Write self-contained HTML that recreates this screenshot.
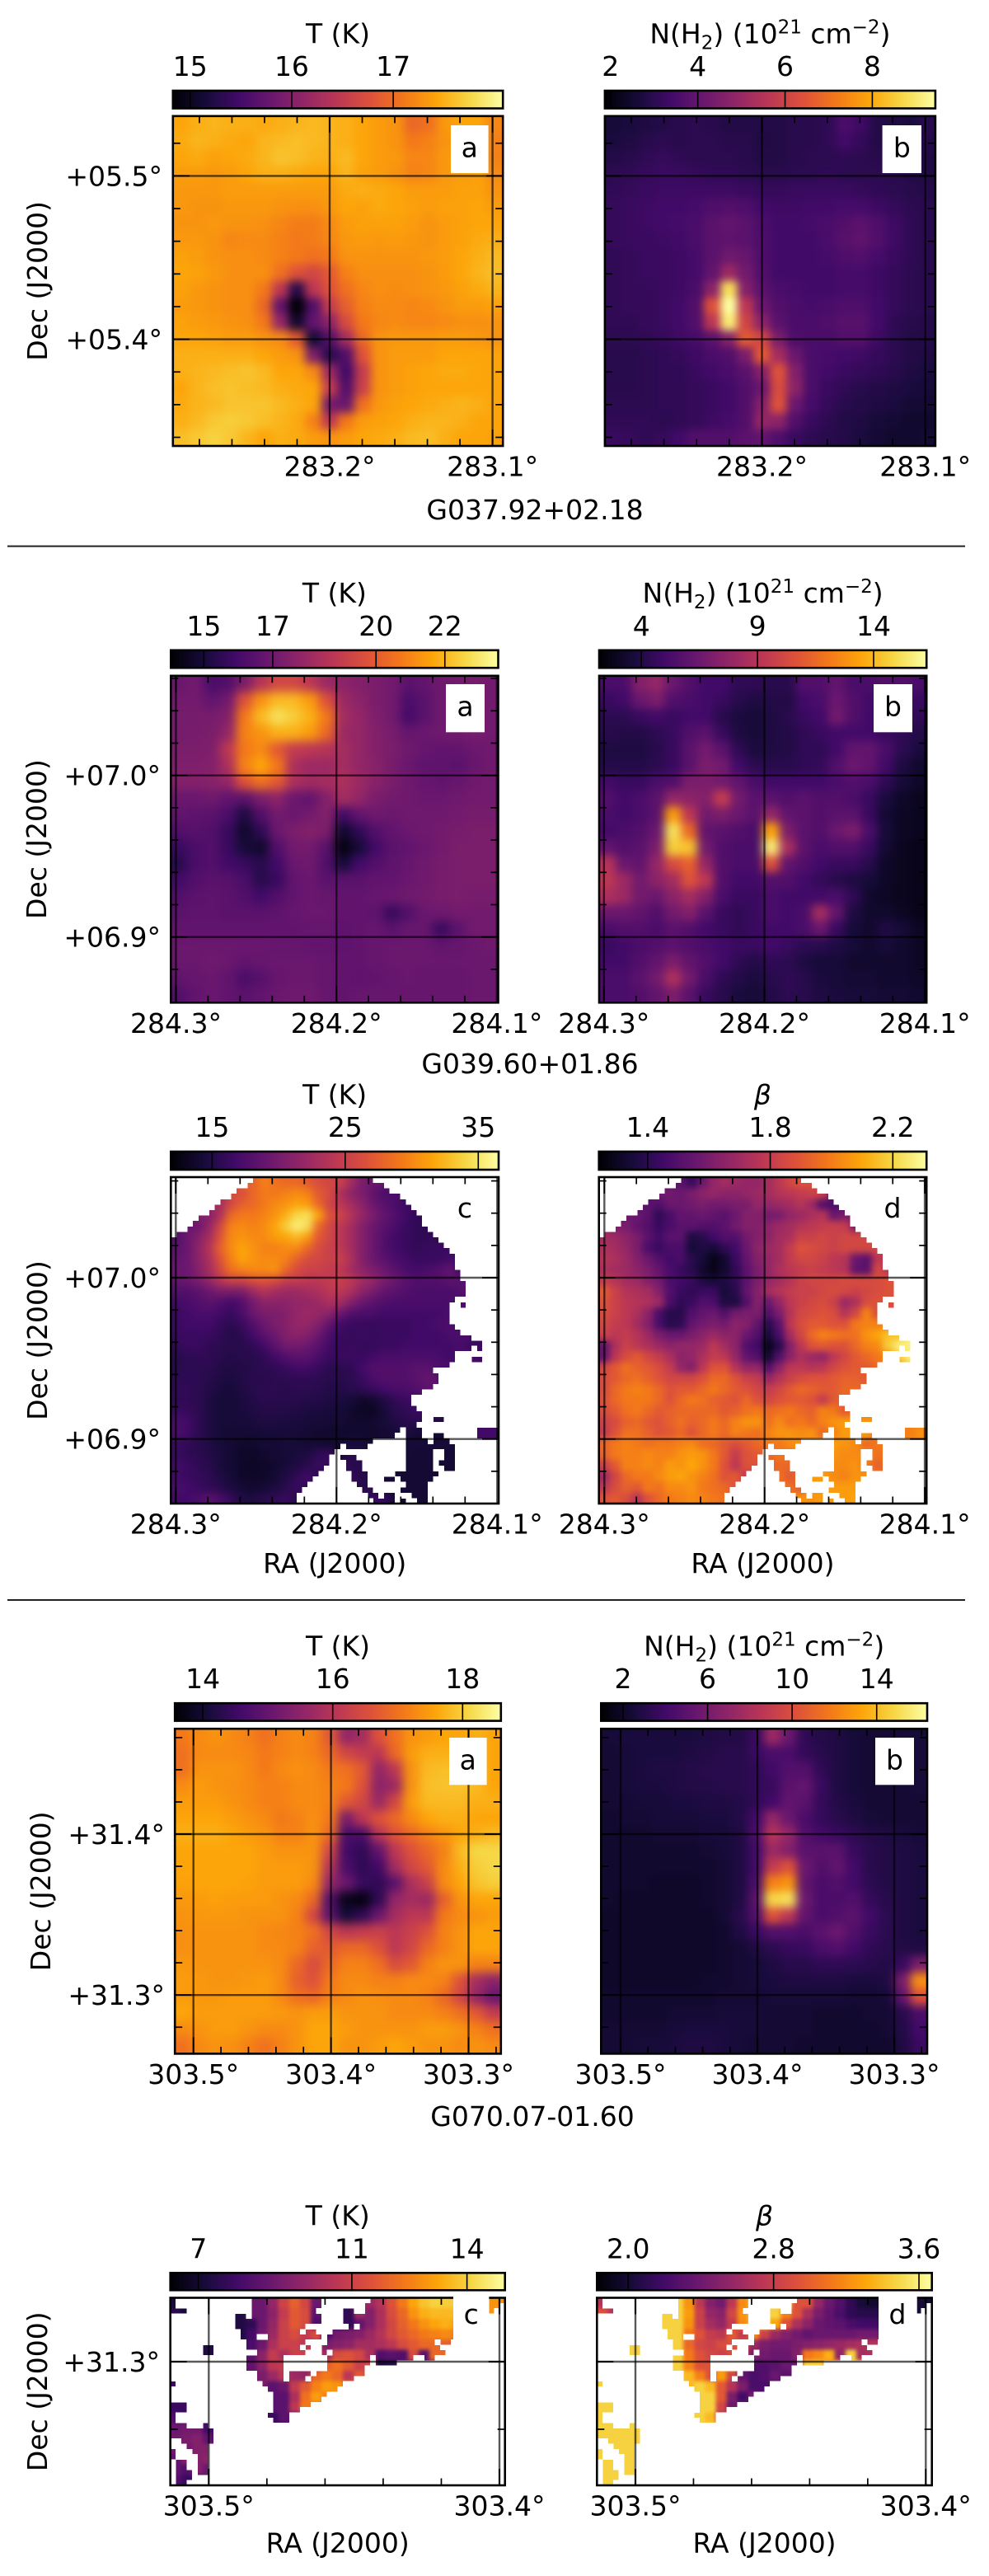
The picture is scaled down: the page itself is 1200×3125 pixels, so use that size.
<!DOCTYPE html>
<html lang="en">
<head>
<meta charset="utf-8">
<title>Dust temperature and column density maps</title>
<style>
html,body{margin:0;padding:0;background:#fff;}
svg{display:block;}
text{font-family:"DejaVu Sans","Liberation Sans",sans-serif;font-size:33px;fill:#000;white-space:pre;}
</style>
</head>
<body>
<svg id="figure" xmlns="http://www.w3.org/2000/svg" width="1200" height="3125" viewBox="0 0 1200 3125"><defs id="defs"></defs></svg>
<script>
const _ = null;

/* Colourbar tick labels and colour ranges */
const g037TempTicks = ['15','16','17'];
const g037TempRange = [14.83,18.08];
const g037ColTicks = ['2','4','6','8'];
const g037ColRange = [1.87,9.445];
const g039TempTicks = ['15','17','20','22'];
const g039TempRange = [14.04,23.55];
const g039ColTicks = ['4','9','14'];
const g039ColRange = [2.18,16.28];
const g039WideTempTicks = ['15','25','35'];
const g039WideTempRange = [11.9,36.53];
const g039BetaTicks = ['1.4','1.8','2.2'];
const g039BetaRange = [1.241,2.31];
const g070TempTicks = ['14','16','18'];
const g070TempRange = [13.57,18.59];
const g070ColTicks = ['2','6','10','14'];
const g070ColRange = [0.96,16.39];
const g070ZoomTempTicks = ['7','11','14'];
const g070ZoomTempRange = [6.27,14.99];
const g070BetaTicks = ['2.0','2.8','3.6'];
const g070BetaRange = [1.828,3.671];

/* Sky-coordinate tick values and labels */
const g037Ra = [283.2,283.1];
const g037RaLabels = ['283.2°','283.1°'];
const g037Dec = [5.5,5.4];
const g037DecLabels = ['+05.5°','+05.4°'];
const g039Ra = [284.3,284.2,284.1];
const g039RaLabels = ['284.3°','284.2°','284.1°'];
const g039Dec = [7.0,6.9];
const g039DecLabels = ['+07.0°','+06.9°'];
const g070Ra = [303.5,303.4,303.3];
const g070RaLabels = ['303.5°','303.4°','303.3°'];
const g070Dec = [31.4,31.3];
const g070DecLabels = ['+31.4°','+31.3°'];
const g070ZoomRa = [303.5,303.4];
const g070ZoomRaLabels = ['303.5°','303.4°'];
const g070ZoomDec = [31.3];
const g070ZoomDecLabels = ['+31.3°'];

/* Map values: position on each colour scale, 0-100, rows top to bottom. _ = blank (no data) */
const g037Temp = [
[80,82,83,82,82,81,82,83,84,83,82,80,78,76,66,68,77,80,80,73],
[81,83,82,81,80,83,84,85,84,83,82,80,78,76,70,72,76,80,81,72],
[80,81,79,80,81,83,86,85,83,82,84,80,78,77,73,73,77,79,80,72],
[78,78,77,78,80,82,82,81,80,80,83,79,78,76,72,73,77,78,79,74],
[77,77,77,78,78,78,78,78,78,78,81,82,81,80,78,78,78,79,79,76],
[77,76,76,77,77,77,76,75,75,77,80,79,81,80,79,78,79,79,80,78],
[76,76,77,76,76,75,73,71,71,74,78,79,79,79,78,76,78,79,80,80],
[77,77,76,73,74,74,72,70,71,73,77,78,77,78,77,76,78,79,81,82],
[79,78,76,75,75,74,72,70,68,70,76,76,76,76,76,77,78,80,82,84],
[80,79,77,75,75,75,68,60,56,62,72,75,75,75,75,76,78,80,83,85],
[79,77,76,75,75,70,50,14,50,60,68,73,75,74,75,76,77,79,81,83],
[78,77,76,75,75,66,28,0,24,52,64,72,74,74,73,74,76,78,78,79],
[79,78,77,76,75,70,40,8,28,38,58,70,73,74,73,73,74,75,75,76],
[80,80,79,78,78,76,74,62,10,24,44,66,76,77,77,77,78,78,77,76],
[82,82,82,82,82,80,78,76,35,14,24,60,76,78,78,78,80,80,80,80],
[82,83,84,85,86,84,80,80,74,42,20,52,76,78,79,80,81,81,80,80],
[80,83,85,86,85,84,82,81,80,52,24,54,76,78,79,80,80,80,80,80],
[81,83,84,86,86,86,84,82,80,32,30,68,77,79,80,81,82,83,82,80],
[82,84,87,88,87,85,83,81,72,50,70,78,79,80,82,83,83,82,80,80],
[85,87,89,87,83,80,82,81,78,76,78,80,81,82,84,85,82,80,80,79]
];
const g037Col = [
[10,11,12,13,14,15,14,13,13,13,13,14,14,16,22,19,13,12,11,14],
[11,12,14,15,14,15,15,14,14,12,13,14,14,16,20,17,13,12,12,13],
[13,14,16,17,16,15,15,15,14,13,13,14,15,15,16,15,14,13,13,12],
[15,16,17,18,18,17,16,16,15,14,14,15,15,16,15,15,15,14,13,12],
[16,17,18,19,19,19,19,19,18,17,17,18,18,18,18,17,16,15,14,13],
[17,18,19,20,20,21,23,24,23,20,19,19,20,20,21,21,19,17,15,14],
[17,18,19,20,21,22,26,28,26,22,20,20,21,22,24,26,23,19,16,14],
[17,18,18,19,20,22,26,27,26,23,20,20,20,22,25,27,24,19,16,14],
[16,17,18,18,19,21,26,31,29,23,20,20,20,21,23,24,21,18,16,14],
[16,17,18,18,19,21,28,42,32,24,20,20,20,20,21,21,19,17,15,14],
[16,17,17,18,19,22,38,92,36,26,22,21,20,20,21,21,19,17,15,14],
[16,17,17,18,20,24,60,100,50,30,24,22,21,22,23,23,20,17,15,14],
[16,16,17,18,20,24,50,95,55,38,26,22,22,23,25,25,20,16,14,13],
[15,15,16,17,19,21,26,36,62,56,34,23,22,22,24,24,19,15,13,13],
[14,14,15,16,17,19,22,24,34,62,44,30,22,21,20,19,17,15,13,12],
[14,14,15,16,16,18,20,22,26,36,60,36,22,20,18,17,16,14,12,11],
[14,14,15,16,16,17,18,20,24,30,58,38,22,18,16,14,13,12,11,10],
[15,15,15,16,16,17,18,20,24,36,60,30,21,17,14,13,12,11,9,9],
[16,16,16,15,16,17,19,21,24,40,38,24,18,15,13,12,10,9,8,8],
[18,17,16,17,20,24,24,24,26,28,23,18,15,14,13,11,9,8,8,9]
];
const g039Temp = [
[30,32,22,24,34,48,56,56,50,42,38,36,34,32,26,28,31,32,33,32],
[32,32,28,32,60,76,84,84,78,60,42,38,34,32,22,26,31,32,33,32],
[33,33,33,36,70,84,92,88,82,70,44,40,35,32,21,26,31,32,33,32],
[33,33,34,40,72,76,82,82,78,66,42,40,36,33,29,30,31,32,33,32],
[34,34,35,50,70,74,62,52,50,48,44,40,36,34,31,29,28,28,30,31],
[35,35,36,46,72,80,70,46,42,42,44,40,37,33,30,27,27,26,29,31],
[36,36,37,40,60,68,62,46,43,44,46,42,37,34,31,29,28,29,31,32],
[30,30,31,28,26,34,38,30,28,36,44,40,34,32,31,30,30,31,32,32],
[28,27,26,22,12,24,32,30,32,36,20,28,31,30,31,31,31,32,33,33],
[24,25,24,18,8,16,30,34,36,34,8,16,24,28,30,31,32,33,34,34],
[18,22,24,18,10,8,24,32,32,26,2,10,20,26,28,30,32,34,34,34],
[14,22,24,20,18,14,20,30,31,24,10,20,24,27,29,31,33,34,34,34],
[20,24,26,25,22,14,18,28,30,26,26,26,28,28,30,31,33,34,34,34],
[24,26,27,26,24,20,24,28,30,29,28,28,29,30,31,32,33,34,33,33],
[26,27,27,26,26,26,27,29,30,30,28,28,27,18,24,30,31,32,32,32],
[28,28,28,28,28,28,28,28,29,29,27,28,29,26,29,29,18,26,32,32],
[30,30,30,30,30,30,29,29,28,28,27,28,29,30,30,30,28,29,30,31],
[30,30,31,30,28,29,30,30,30,29,28,28,29,30,30,30,30,30,30,30],
[28,29,30,28,22,25,29,30,30,29,28,27,28,29,30,29,29,29,30,30],
[24,28,30,28,26,28,30,31,31,29,28,29,29,29,29,29,29,29,30,30]
];
const g039Col = [
[22,22,36,40,30,24,20,20,16,16,14,14,24,24,28,22,22,24,24,22],
[18,20,30,34,24,22,20,18,14,12,13,13,20,22,30,24,20,22,20,18],
[15,15,18,20,18,20,20,14,11,10,12,14,18,20,32,24,20,20,18,16],
[14,13,13,15,18,24,26,18,12,10,12,13,16,18,20,20,20,18,16,13],
[12,12,12,14,18,26,32,26,16,11,12,13,16,16,20,28,28,22,15,11],
[13,13,13,15,18,26,34,32,20,15,14,14,16,17,24,30,28,20,12,8],
[20,18,18,22,24,34,34,32,28,22,20,20,20,20,22,24,22,16,10,7],
[24,20,22,26,40,38,36,52,32,26,26,24,26,24,24,22,18,11,7,5],
[22,20,22,26,78,50,32,34,30,26,40,28,26,24,26,26,18,9,6,5],
[20,22,24,30,92,66,28,26,24,22,80,34,26,24,30,34,22,10,6,5],
[28,24,26,34,88,86,32,24,22,22,95,45,26,22,24,24,18,9,5,4],
[48,30,28,40,58,64,40,24,22,22,60,28,24,20,18,18,14,7,5,4],
[50,42,32,38,44,60,50,24,20,20,24,24,20,17,14,12,10,7,5,4],
[46,42,32,30,38,44,36,22,18,18,22,20,20,20,22,16,8,6,5,4],
[30,30,28,24,32,36,26,18,16,18,22,20,22,44,28,12,8,8,6,4],
[22,24,24,22,26,24,20,18,16,18,20,20,22,30,18,10,8,12,10,6],
[18,20,22,24,26,24,22,20,18,18,20,18,15,14,12,10,8,10,8,6],
[20,20,24,28,34,28,24,20,16,13,16,15,12,10,10,8,8,8,8,6],
[22,22,26,32,46,32,22,16,13,11,14,16,14,11,10,9,9,8,8,7],
[22,22,24,28,34,26,18,14,11,10,13,15,14,12,11,10,10,9,9,8]
];
const g039WideTemp = [
[_,_,_,_,_,_,_,64,72,68,66,66,62,58,56,54,44,34,30],
[_,_,_,_,_,_,58,66,70,70,72,74,72,62,58,46,38,34,28,22],
[_,_,_,_,44,56,64,66,70,74,76,80,78,66,55,50,44,38,30,26,22,18],
[_,_,_,36,46,66,70,70,72,76,82,90,92,80,60,55,48,40,34,28,24,20,16],
[_,_,30,40,56,72,74,72,74,80,88,96,92,66,56,50,44,36,30,26,22,18,16],
[24,30,36,44,60,74,76,74,74,78,80,84,78,62,56,50,44,36,30,24,20,18,16,16],
[26,30,38,48,64,74,80,76,72,72,74,74,66,58,54,50,44,36,30,24,20,18,16,18,18],
[28,30,38,46,60,72,80,76,74,74,72,64,58,56,54,54,46,36,30,26,22,20,18,18,18,20],
[30,30,36,44,56,68,72,74,74,76,66,58,54,54,52,50,44,38,34,30,26,22,20,22,24,28],
[28,30,34,40,48,54,54,58,60,58,52,52,50,50,52,54,50,44,40,34,30,26,24,24,24,26,26],
[24,24,26,30,34,34,34,42,48,44,42,42,44,46,50,50,46,38,34,28,26,24,22,22,22,22,24],
[20,22,24,26,24,20,24,32,38,38,38,40,40,42,46,44,36,30,26,24,22,22,22,22,22,22],
[18,20,22,22,20,18,22,30,34,34,36,40,42,40,38,30,24,22,22,20,20,20,20,20,20],
[18,20,20,20,17,15,18,24,30,34,36,40,40,36,28,20,18,18,17,18,18,18,20,20,22,22],
[18,18,18,18,16,13,15,20,26,30,36,38,36,30,22,18,17,18,18,18,18,18,20,20,20,22,22],
[16,18,18,16,15,14,14,16,20,26,32,32,30,26,20,17,18,17,17,18,18,20,20,20,20,20,22,18,18],
[14,15,16,16,14,13,14,14,16,20,24,26,26,22,18,18,18,18,20,22,22,22,22,22,22,20],
[14,15,15,15,13,12,13,14,15,16,18,20,20,18,15,14,16,20,24,24,24,24,26,26],
[15,16,15,14,12,11,13,14,14,15,15,16,16,15,14,14,15,18,22,24,24,24,26,28],
[16,16,15,13,11,10,12,14,15,15,14,15,15,14,13,13,14,15,18,20,22,22,24,26],
[16,16,15,12,10,10,11,13,14,14,14,14,13,13,12,11,10,7,8,12,16,18,20],
[18,17,15,12,10,10,11,12,13,13,13,12,11,11,10,10,8,6,6,10,14,16],
[22,20,16,12,10,10,10,11,12,12,11,11,10,10,9,9,8,8,8,10,12,14,14],
[22,20,15,12,10,9,9,9,10,10,10,10,9,8,8,8,8,8,8,9,_,_,9,9,_,_,_,_,20,20],
[18,16,14,12,10,9,8,8,9,9,10,10,9,9,8,9,10,10,_,_,_,_,10,10,10,10],
[18,16,15,13,11,9,7,7,8,9,10,11,12,16,18,_,14,14,_,_,_,_,9,9,_,9],
[20,18,16,14,11,9,7,6,7,8,10,12,14,18,_,_,14,14,_,_,_,_,9,9,9,9],
[20,18,17,15,12,10,7,7,7,9,12,16,20,_,_,_,16,14,_,_,9,_,9,9],
[22,20,18,16,14,11,9,8,9,11,14,18,_,_,_,_,_,14,_,_,_,9,9,9],
[20,20,22,26,22,17,12,12,14,16,18,_,_,_,_,_,_,_,18,_,_,_,9,9]
];
const g039Beta = [
[_,_,_,_,_,_,_,26,18,30,40,44,42,40,40,44,50,56,60],
[_,_,_,_,_,_,32,30,34,38,40,38,38,40,42,44,48,50,52,54],
[_,_,_,_,26,24,30,30,32,34,32,32,34,34,40,40,42,44,48,42,24,22],
[_,_,_,30,26,16,22,28,28,30,28,26,30,36,36,32,34,40,42,46,48,30,34],
[_,_,34,28,24,18,22,26,26,24,24,26,32,36,36,38,42,44,48,50,52,54,52],
[44,42,38,34,26,20,26,26,12,14,20,24,24,32,36,38,44,46,54,54,56,54,56,56],
[46,44,40,34,22,18,22,22,10,12,10,16,20,30,38,42,44,52,60,58,56,54,56,56,56],
[48,46,42,36,30,24,20,22,14,10,4,8,18,28,36,40,44,52,56,56,54,50,48,30,26,50],
[46,44,42,38,34,28,22,18,14,8,4,8,16,26,34,40,46,50,52,54,52,50,48,28,26,56],
[52,48,44,42,36,32,22,20,18,12,10,12,16,26,34,40,44,48,54,56,56,56,58,58,58,58,60],
[62,54,48,46,44,36,24,18,16,18,18,10,14,28,36,44,48,52,54,54,56,58,56,54,56,58,60],
[60,54,50,48,46,42,22,16,18,24,22,12,12,24,36,30,40,50,54,56,58,54,42,46,58,60],
[58,54,50,46,38,22,14,14,24,28,30,24,32,34,34,24,34,48,56,58,60,58,48,56,72],
[56,52,50,44,36,22,14,16,28,32,34,32,38,36,28,14,26,50,58,62,62,60,60,70,72,72],
[54,50,52,48,42,34,30,30,34,38,42,38,38,30,24,10,22,44,56,66,72,70,68,68,76,80,86],
[28,46,54,50,46,42,38,40,40,42,50,44,38,24,20,4,14,36,50,60,62,60,60,66,72,74,88,96,96],
[28,50,58,62,56,52,46,38,40,46,52,50,40,28,24,8,24,38,46,42,40,50,56,62,66,70],
[56,62,68,64,62,58,52,40,36,50,60,60,48,40,40,24,38,50,50,48,50,56,60,62],
[58,62,66,68,64,60,56,56,56,60,66,66,60,54,52,40,48,54,58,60,60,62,64,64],
[58,66,70,72,70,66,60,62,62,66,70,66,62,60,56,52,56,62,66,64,62,62,66,66],
[60,66,70,70,70,66,60,66,70,68,64,62,60,66,60,56,60,62,62,60,52,62,66],
[58,62,68,70,66,62,64,66,66,66,66,62,64,68,70,66,68,70,66,64,72,70],
[54,58,64,66,62,60,64,68,64,66,70,66,72,76,76,68,74,68,70,66,72,76,78],
[52,60,68,68,64,60,62,66,60,66,70,66,72,70,68,72,76,76,74,76,_,_,78,78,_,_,_,_,72,76],
[66,70,72,70,68,70,70,72,74,68,66,62,58,62,66,70,70,74,_,_,_,_,76,74,66,70],
[64,70,72,72,74,72,72,76,78,76,70,62,52,60,62,_,70,68,_,_,_,_,74,74,_,68],
[54,62,72,72,74,72,78,76,80,76,70,60,50,60,_,_,66,66,_,_,_,_,74,76,70,64],
[42,56,66,70,70,74,78,80,76,72,68,60,62,_,_,_,68,62,_,_,78,_,72,76],
[50,58,64,62,70,68,74,74,76,70,68,66,_,_,_,_,_,68,_,_,_,78,78,78],
[60,62,58,48,60,66,70,72,74,72,70,_,_,_,_,_,_,_,76,_,_,_,78,80]
];
/* Which map pixels hold data in G039 panels c and d: per row, [first,last] column runs */
const g039CoverageRuns = [
[[15,36]],[[14,38]],[[12,39]],[[11,41]],[[9,42]],[[8,43]],[[7,44]],[[5,45]],[[4,45]],[[3,46]],
[[1,47]],[[0,48]],[[0,49]],[[0,50]],[[0,51]],[[0,51]],[[0,51]],[[0,52]],[[0,52]],[[0,53]],
[[0,53]],[[0,53]],[[0,51]],[[0,50],[53,53]],[[0,50]],[[0,50]],[[0,50]],[[0,51]],[[0,52]],[[0,54]],
[[0,55],[56,56]],[[0,53],[54,54],[56,56]],[[0,51]],[[0,51],[55,56]],[[0,50]],[[0,47]],[[0,48]],[[0,48]],[[0,47]],[[0,45]],
[[0,43]],[[0,43]],[[0,44]],[[0,45]],[[0,45],[48,49]],[[0,44]],[[0,41],[43,45],[56,59]],[[0,40],[43,45],[48,49],[56,59]],[[0,36],[43,46],[48,50]],[[0,30],[32,35],[43,51]],
[[0,29],[43,47],[50,51]],[[0,28],[31,33],[43,47],[50,51]],[[0,28],[32,34],[43,47],[49,51]],[[0,27],[32,34],[43,47],[50,51]],[[0,26],[33,35],[41,48]],[[0,25],[33,35],[39,40],[42,47]],[[0,24],[34,35],[43,46]],[[0,23],[35,36],[42,46]],[[0,22],[36,37],[39,40],[44,46]],[[0,22],[37,38],[39,40],[42,42],[45,46]]
];
const g070Temp = [
[70,74,76,74,72,68,72,74,72,62,40,44,60,68,76,78,80,80,82,80],
[68,74,74,74,73,70,72,74,72,66,56,52,50,66,78,82,82,82,82,80],
[68,76,76,76,74,70,74,75,74,70,68,62,40,50,76,84,85,85,84,80],
[74,78,76,75,74,72,72,74,74,72,70,60,38,42,76,85,86,86,84,80],
[78,78,78,76,74,72,72,74,74,72,62,56,42,56,78,84,84,84,82,82],
[80,80,80,78,76,74,70,72,75,70,34,50,60,66,74,80,82,82,80,80],
[82,82,82,80,78,76,72,72,76,66,22,22,48,60,66,72,76,80,82,84],
[80,80,80,80,80,78,76,76,76,56,20,16,28,50,60,66,72,84,90,90],
[80,80,80,80,80,78,78,78,76,48,22,16,20,44,56,62,74,82,88,90],
[79,80,80,80,79,78,78,78,74,40,30,18,16,26,46,54,74,80,86,88],
[77,78,79,78,78,78,76,74,66,24,4,2,16,40,44,42,64,76,80,80],
[76,77,77,77,76,76,76,72,56,26,10,16,30,44,50,50,70,74,76,78],
[75,76,76,76,76,74,73,72,68,56,50,52,54,50,54,60,72,76,80,80],
[75,76,76,76,76,74,74,72,64,62,66,66,60,50,56,66,72,76,80,80],
[77,76,76,76,76,76,74,66,58,66,72,72,68,58,62,72,76,76,72,72],
[78,77,76,76,77,78,74,64,60,70,74,74,72,72,74,74,72,60,44,38],
[78,77,77,78,78,78,74,68,66,72,74,76,75,74,74,72,66,56,40,30],
[80,78,78,78,78,78,77,76,78,78,76,76,76,74,74,74,72,68,62,52],
[74,76,78,78,76,74,74,76,80,80,78,76,76,76,76,78,78,76,72,68],
[68,74,76,75,72,68,72,76,80,80,76,76,78,80,78,76,76,74,76,74]
];
const g070Col = [
[10,11,11,11,11,11,12,13,13,18,42,30,16,13,12,10,9,9,10,10],
[9,10,11,11,11,12,13,14,14,18,22,22,17,14,12,10,9,9,10,10],
[9,10,11,12,12,13,14,14,14,16,20,24,24,16,12,10,9,9,9,10],
[9,10,11,11,12,13,13,14,14,16,18,26,28,18,12,10,9,9,9,10],
[9,9,10,10,11,11,12,12,13,16,20,28,26,17,13,11,9,9,9,9],
[8,9,9,10,10,10,11,11,13,20,40,30,22,17,14,12,10,9,9,9],
[8,8,8,9,9,9,10,10,12,22,48,40,24,20,18,15,13,12,11,10],
[8,8,8,8,8,8,9,10,12,20,42,36,26,26,26,18,14,13,12,11],
[8,8,8,8,8,8,8,9,12,20,52,60,30,24,28,20,14,13,12,11],
[8,8,8,7,7,7,8,9,12,22,72,76,28,22,24,20,15,13,12,11],
[8,7,7,7,7,7,8,9,12,26,90,92,30,22,22,24,17,14,12,11],
[7,7,7,7,7,7,7,9,14,24,60,50,28,22,24,26,20,15,12,11],
[7,7,7,7,7,7,7,8,12,18,24,24,22,26,30,24,18,15,12,11],
[7,7,7,7,7,7,7,8,9,12,15,17,18,22,24,20,16,14,13,12],
[7,7,7,7,7,7,7,8,9,10,12,14,14,16,16,15,14,13,18,34],
[7,7,7,7,7,7,8,8,9,10,11,12,12,12,12,11,11,12,34,75],
[8,8,8,8,8,8,8,9,9,9,10,10,10,10,10,9,9,10,28,60],
[8,8,8,8,9,9,9,10,10,10,9,9,9,8,8,8,9,9,14,22],
[9,9,9,9,10,11,11,11,10,10,9,9,9,8,8,8,8,9,13,20],
[9,9,10,10,11,12,12,11,10,9,9,9,8,8,8,8,8,8,12,18]
];
const g070ZoomTemp = [
[10,_,_,_,_,_,_,_,30,40,55,64,56,30,_,_,_,_,42,48,60,70,80,86,89,88,88,_,_,_,76],
[14,_,_,_,_,_,12,_,30,38,52,62,58,26,_,_,16,_,36,46,58,66,76,82,84,84,84,_,_,_,80],
[_,_,_,_,_,_,12,16,30,40,54,62,58,22,_,_,16,28,36,46,56,64,70,76,80,82,80],
[_,_,_,_,_,_,_,20,32,42,54,58,52,_,_,32,34,36,42,48,56,62,66,70,72,74,72],
[_,_,_,_,_,_,_,22,30,46,54,54,50,_,34,36,38,44,44,46,50,58,62,66,66,64,60],
[_,_,_,12,_,_,_,26,38,52,_,_,_,_,44,58,60,56,46,24,26,24,_,26],
[_,_,_,_,_,_,_,28,38,50,_,_,_,_,64,68,62,54,_,10,12],
[_,_,_,_,_,_,_,_,34,42,_,42,40,66,70,66,50],
[18,_,_,_,_,_,_,_,_,26,30,52,62,72,78,76],
[_,_,_,_,_,_,_,_,_,_,26,46,68,78],
[18,_,_,_,_,_,_,_,_,_,26,50,70],
[24,_,_,_,_,_,_,_,_,18,26],
[30,32,_,20],
[32,34,36,28],
[_,_,36,36],
[28,_,36,38],
[_,24,_,30],
[_,18,20]
];
const g070ZoomBeta = [
[48,_,_,_,_,_,_,89,76,50,36,32,50,74,89,_,_,_,_,60,40,30,24,16,10,8,8,_,_,10],
[60,48,_,_,_,_,89,89,78,54,40,38,56,76,89,_,89,72,60,45,34,28,22,16,14,14,14],
[_,_,_,_,_,_,89,89,76,54,44,40,52,74,89,_,80,60,46,38,30,28,26,22,20,20,20],
[_,_,_,_,_,_,_,89,70,60,52,50,62,_,_,54,42,36,32,28,30,30,30,30,32,32,32],
[_,_,_,_,_,_,_,89,66,56,54,58,60,_,42,34,32,32,34,36,38,40,42,44,46,48,50],
[_,_,_,89,_,_,_,89,70,60,_,_,_,_,34,32,30,30,36,70,74,82,_,89],
[_,_,_,_,_,_,_,89,72,60,_,_,_,_,24,24,26,30,_,89,89],
[_,_,_,_,_,_,_,_,84,72,_,78,56,28,22,24,30],
[89,_,_,_,_,_,_,_,_,89,84,62,48,34,22,22],
[_,_,_,_,_,_,_,_,_,_,89,62,34,20],
[89,_,_,_,_,_,_,_,_,_,89,56,30],
[89,_,_,_,_,_,_,_,_,89,84,50],
[89,89,_,89],
[89,89,89,89],
[_,_,89,89],
[89,_,89,89],
[_,89,_,89],
[_,89,89]
];
/* Which map pixels hold data in G070 panels c and d: per row, [first,last] column runs */
const g070CoverageRuns = [
[[0,0],[15,27],[37,52],[59,61]],[[0,0],[15,27],[36,52],[59,60]],[[0,2],[15,26],[32,33],[36,52],[59,59]],[[12,13],[15,27],[32,52]],[[12,27],[32,52]],[[12,24],[33,33],[35,52]],
[[13,23],[25,26],[30,52]],[[13,15],[18,27],[29,52]],[[14,24],[29,48],[50,51]],[[6,7],[14,23],[25,25],[28,49]],[[6,7],[16,24],[28,28],[30,50]],[[14,20],[29,36],[38,44],[47,48]],
[[14,20],[29,36],[38,41]],[[14,20],[29,35]],[[16,20],[22,25],[27,35]],[[16,20],[22,24],[26,33]],[[0,0],[17,31]],[[18,30]],
[[19,28]],[[19,27]],[[0,2],[19,25]],[[0,2],[19,23]],[[0,0],[18,21]],[[0,0],[19,21]],
[[0,2],[6,6]],[[0,7]],[[0,7]],[[2,7]],[[3,6]],[[0,0],[4,6]],
[[0,0],[5,6]],[[1,2],[5,6]],[[1,2],[5,6]],[[1,3],[5,6]],[[1,3]],[[1,2]]
];

/* Page layout (pixels), separate from the data above */
const NS = 'http://www.w3.org/2000/svg';
const svg = document.getElementById('figure');
const defs = document.getElementById('defs');
const colourStops = [[0,0,4],[22,11,57],[66,10,104],[106,23,110],[147,38,103],[188,55,84],[221,81,58],[243,120,25],[252,165,10],[246,215,70],[252,255,164]];

function colourAt(level) {
  const t = Math.max(0, Math.min(1, level / 100)) * 10;
  const i = Math.min(9, Math.floor(t));
  const f = t - i;
  const a = colourStops[i];
  const b = colourStops[i + 1];
  return 'rgb(' + Math.round(a[0] + (b[0] - a[0]) * f) + ',' + Math.round(a[1] + (b[1] - a[1]) * f) + ',' + Math.round(a[2] + (b[2] - a[2]) * f) + ')';
}
function make(tag, parent, attrs) {
  const el = document.createElementNS(NS, tag);
  for (const k in attrs) el.setAttribute(k, attrs[k]);
  parent.appendChild(el);
  return el;
}
function label(parent, x, y, str, anchor) {
  const el = make('text', parent, {x: x, y: y, 'text-anchor': anchor || 'middle'});
  el.textContent = str;
  return el;
}
function linearAxis(v0, p0, v1, p1) {
  return function (v) { return p0 + (v - v0) * (p1 - p0) / (v1 - v0); };
}
function nearestLevel(levels, r, c) {
  for (let d = 1; d < 10; d++) {
    for (let dr = -d; dr <= d; dr++) {
      for (let dc = -d; dc <= d; dc++) {
        const row = levels[r + dr];
        if (row && row[c + dc] != null) return row[c + dc];
      }
    }
  }
  return null;
}
function drawTitle(parent, cx, y, kind) {
  const el = make('text', parent, {x: cx, y: y, 'text-anchor': 'middle'});
  if (kind === 'T') {
    el.textContent = 'T (K)';
  } else if (kind === 'beta') {
    el.textContent = 'β';
    el.setAttribute('font-style', 'italic');
  } else {
    const parts = [['N(H', 0], ['2', 7], [') (10', 0], ['21', -12], [' cm', 0], ['−2', -12], [')', 0]];
    let shift = 0;
    parts.forEach(function (part) {
      const span = make('tspan', el, {dy: part[1] - shift});
      if (part[1] !== 0) span.setAttribute('style', 'font-size:23px');
      span.textContent = part[0];
      shift = part[1];
    });
  }
  return el;
}

let clipCount = 0;
function drawPanel(p) {
  const g = make('g', svg, {});
  
  
  const w = p.x1 - p.x0;
  const h = p.y1 - p.y0;

  /* title and colourbar */
  const title = drawTitle(g, (p.x0 + p.x1) / 2, p.cb0 - 57.6, p.title);
  
  
  clipCount++;
  const gradId = 'grad' + clipCount;
  const grad = make('linearGradient', defs, {id: gradId, x1: 0, x2: 1, y1: 0, y2: 0});
  for (let i = 0; i <= 40; i++) {
    make('stop', grad, {offset: i / 40, 'stop-color': colourAt(i * 2.5)});
  }
  const bar = make('rect', g, {x: p.x0, y: p.cb0, width: w, height: p.cb1 - p.cb0, fill: 'url(#' + gradId + ')', stroke: '#000', 'stroke-width': 2.6});
  
  
  const cbAxis = linearAxis(p.range[0], p.x0, p.range[1], p.x1);
  p.ticks.forEach(function (t) {
    const x = cbAxis(Number(t));
    const tick = make('line', g, {x1: x, x2: x, y1: p.cb0, y2: p.cb1, stroke: '#000', 'stroke-width': 1.6});
    
    
    const text = label(g, x, p.cb0 - 18, t);
    
    
  });

  /* heat map */
  const clipId = 'clip' + clipCount;
  const clip = make('clipPath', defs, {id: clipId});
  make('rect', clip, {x: p.x0, y: p.y0, width: w, height: h});
  const mapClip = make('g', g, {'clip-path': 'url(#' + clipId + ')'});
  
  
  const rows = p.levels.length;
  const cols = p.cols;
  const colAxis = linearAxis(0, p.x0, cols, p.x1);
  const rowAxis = linearAxis(0, p.y0, rows, p.y1);
  const filterId = 'blur' + clipCount;
  const filter = make('filter', defs, {id: filterId, filterUnits: 'userSpaceOnUse', x: p.x0 - 60, y: p.y0 - 60, width: w + 120, height: h + 120, 'color-interpolation-filters': 'sRGB'});
  make('feGaussianBlur', filter, {stdDeviation: p.blur});
  const layer = make('g', mapClip, {filter: 'url(#' + filterId + ')', 'shape-rendering': 'crispEdges'});
  for (let r = 0; r < rows; r++) {
    for (let c = 0; c < cols; c++) {
      let v = p.levels[r][c];
      if (v == null) v = nearestLevel(p.levels, r, c);
      if (v == null) continue;
      let cx0 = colAxis(c);
      let cx1 = colAxis(c + 1);
      let cy0 = rowAxis(r);
      let cy1 = rowAxis(r + 1);
      if (c === 0) cx0 -= 40;
      if (c === cols - 1) cx1 += 40;
      if (r === 0) cy0 -= 40;
      if (r === rows - 1) cy1 += 40;
      const cell = make('rect', layer, {x: cx0, y: cy0, width: cx1 - cx0 + 0.4, height: cy1 - cy0 + 0.4, fill: colourAt(v)});
      
      
    }
  }
  if (p.coverage) {
    const cover = make('g', mapClip, {'shape-rendering': 'crispEdges'});
    const maskCols = p.coverageCols;
    const maskColAxis = linearAxis(0, p.x0, maskCols, p.x1);
    const maskRowAxis = linearAxis(0, p.y0, p.coverage.length, p.y1);
    p.coverage.forEach(function (runs, r) {
      let c = 0;
      while (c < maskCols) {
        const hasData = runs.some(function (run) { return c >= run[0] && c <= run[1]; });
        if (hasData) { c++; continue; }
        let end = c;
        while (end + 1 < maskCols && !runs.some(function (run) { return end + 1 >= run[0] && end + 1 <= run[1]; })) end++;
        const blank = make('rect', cover, {x: maskColAxis(c), y: maskRowAxis(r), width: maskColAxis(end + 1) - maskColAxis(c) + 0.4, height: maskRowAxis(r + 1) - maskRowAxis(r) + 0.4, fill: '#fff'});
        
        
        c = end + 1;
      }
    });
  }

  /* grid, ticks, labels */
  const raAxis = linearAxis(p.raCal[0], p.raCal[1], p.raCal[2], p.raCal[3]);
  const decAxis = linearAxis(p.decCal[0], p.decCal[1], p.decCal[2], p.decCal[3]);
  p.ra.forEach(function (v) {
    const x = raAxis(v);
    if (x < p.x0 - 1 || x > p.x1 + 1) return;
    const line = make('line', g, {x1: x, x2: x, y1: p.y0, y2: p.y1, stroke: '#000', 'stroke-opacity': 0.65, 'stroke-width': 2.4});
    
    
  });
  p.dec.forEach(function (v) {
    const y = decAxis(v);
    const line = make('line', g, {x1: p.x0, x2: p.x1, y1: y, y2: y, stroke: '#000', 'stroke-opacity': 0.65, 'stroke-width': 2.4});
    
    
  });
  const ticks = make('g', g, {stroke: '#000', 'stroke-width': 1.7});
  
  
  for (let k = -40; k <= 40; k++) {
    const x = raAxis(p.ra[0] + k * 0.02);
    if (x > p.x0 + 2 && x < p.x1 - 2) {
      const len = p.ra.some(function (v) { return Math.abs(raAxis(v) - x) < 1; }) ? 20 : 8.5;
      make('line', ticks, {x1: x, x2: x, y1: p.y0, y2: p.y0 + len});
      make('line', ticks, {x1: x, x2: x, y1: p.y1, y2: p.y1 - len});
    }
    const y = decAxis(p.dec[0] + k * 0.02);
    if (y > p.y0 + 2 && y < p.y1 - 2) {
      const len = p.dec.some(function (v) { return Math.abs(decAxis(v) - y) < 1; }) ? 20 : 9;
      make('line', ticks, {x1: p.x0, x2: p.x0 + len, y1: y, y2: y});
      make('line', ticks, {x1: p.x1, x2: p.x1 - len, y1: y, y2: y});
    }
  }
  const frame = make('rect', g, {x: p.x0, y: p.y0, width: w, height: h, fill: 'none', stroke: '#000', 'stroke-width': 2.6});
  
  

  p.raLabels.forEach(function (t, i) {
    const text = label(g, raAxis(p.ra[i]), p.y1 + 36.5, t);
    
    
  });
  if (p.decLabels) {
    p.decLabels.forEach(function (t, i) {
      const text = label(g, p.decRight, decAxis(p.dec[i]) + 12, t, 'end');
      
      
    });
    const dy = (p.y0 + p.y1) / 2;
    const decTitle = make('text', g, {transform: 'translate(' + p.decBase + ',' + dy + ') rotate(-90)', 'text-anchor': 'middle'});
    decTitle.textContent = 'Dec (J2000)';
    
    
  }
  if (p.raBase) {
    const raTitle = label(g, (p.x0 + p.x1) / 2, p.raBase, 'RA (J2000)');
    
    
  }

  /* panel letter */
  if (p.box) {
    const box = make('rect', g, {x: p.box[0], y: p.box[1], width: p.box[2] - p.box[0], height: p.box[3] - p.box[1], fill: '#fff'});
    
    
  }
  const letter = label(g, p.letterX, p.letterY, p.letter);
  
  
}

const panels = [
 {name:'g037-temperature-panel',x0:209.8,x1:610.2,y0:140.8,y1:541,cb0:110,cb1:131.5,title:'T',ticks:g037TempTicks,range:g037TempRange,levels:g037Temp,cols:20,blur:5.5,
  ra:g037Ra,raLabels:g037RaLabels,raCal:[283.2,400,283.1,597.6],dec:g037Dec,decLabels:g037DecLabels,decCal:[5.5,213.4,5.4,411.6],decRight:197,decBase:57,box:[547,152,592.6,210],letter:'a',letterX:569.8,letterY:190.4},
 {name:'g037-column-density-panel',x0:733.9,x1:1134.9,y0:140.8,y1:541,cb0:110,cb1:131.5,title:'N',ticks:g037ColTicks,range:g037ColRange,levels:g037Col,cols:20,blur:5,
  ra:g037Ra,raLabels:g037RaLabels,raCal:[283.2,924.5,283.1,1122.7],dec:g037Dec,decCal:[5.5,213.4,5.4,411.6],box:[1070.6,152,1118,210],letter:'b',letterX:1094.3,letterY:190.4},
 {name:'g039-temperature-panel',x0:207.3,x1:604.5,y0:819.8,y1:1216.3,cb0:788.8,cb1:810.2,title:'T',ticks:g039TempTicks,range:g039TempRange,levels:g039Temp,cols:20,blur:6,
  ra:g039Ra,raLabels:g039RaLabels,raCal:[284.2,408.2,284.3,213.5],dec:g039Dec,decLabels:g039DecLabels,decCal:[7.0,940.7,6.9,1136.7],decRight:195,decBase:56,box:[541,830,588,888.3],letter:'a',letterX:564.5,letterY:868.6},
 {name:'g039-column-density-panel',x0:727,x1:1124.2,y0:819.8,y1:1216.3,cb0:788.8,cb1:810.2,title:'N',ticks:g039ColTicks,range:g039ColRange,levels:g039Col,cols:20,blur:5.5,
  ra:g039Ra,raLabels:g039RaLabels,raCal:[284.2,927.5,284.3,732.8],dec:g039Dec,decCal:[7.0,940.7,6.9,1136.7],box:[1060,830,1107,888.3],letter:'b',letterX:1083.5,letterY:868.6},
 {name:'g039-wide-temperature-panel',x0:207.3,x1:605,y0:1428,y1:1824,cb0:1397,cb1:1419,title:'T',ticks:g039WideTempTicks,range:g039WideTempRange,levels:g039WideTemp,cols:30,blur:5,coverage:g039CoverageRuns,coverageCols:60,
  ra:g039Ra,raLabels:g039RaLabels,raCal:[284.2,408.3,284.3,213.3],dec:g039Dec,decLabels:g039DecLabels,decCal:[7.0,1550,6.9,1745.7],decRight:195,decBase:57,raBase:1908,letter:'c',letterX:564,letterY:1477},
 {name:'g039-emissivity-panel',x0:726.7,x1:1124.2,y0:1428,y1:1824,cb0:1397,cb1:1419,title:'beta',ticks:g039BetaTicks,range:g039BetaRange,levels:g039Beta,cols:30,blur:4,coverage:g039CoverageRuns,coverageCols:60,
  ra:g039Ra,raLabels:g039RaLabels,raCal:[284.2,927.7,284.3,733.3],dec:g039Dec,decCal:[7.0,1550,6.9,1745.7],raBase:1908,letter:'d',letterX:1083,letterY:1477},
 {name:'g070-temperature-panel',x0:212.2,x1:607.8,y0:2097.2,y1:2491.4,cb0:2066.2,cb1:2087.6,title:'T',ticks:g070TempTicks,range:g070TempRange,levels:g070Temp,cols:20,blur:6,
  ra:g070Ra,raLabels:g070RaLabels,raCal:[303.4,401.6,303.5,234.7],dec:g070Dec,decLabels:g070DecLabels,decCal:[31.4,2225,31.3,2420.2],decRight:200,decBase:61,box:[545,2108,590.6,2165.3],letter:'a',letterX:567.8,letterY:2146.5},
 {name:'g070-column-density-panel',x0:729.3,x1:1125,y0:2097.2,y1:2491.4,cb0:2066.2,cb1:2087.6,title:'N',ticks:g070ColTicks,range:g070ColRange,levels:g070Col,cols:20,blur:5.5,
  ra:g070Ra,raLabels:g070RaLabels,raCal:[303.4,919,303.5,753],dec:g070Dec,decCal:[31.4,2225,31.3,2420.2],box:[1062,2108,1109,2165.3],letter:'b',letterX:1085.5,letterY:2146.5},
 {name:'g070-zoom-temperature-panel',x0:206.7,x1:612.7,y0:2787.5,y1:3015,cb0:2757.3,cb1:2778.3,title:'T',ticks:g070ZoomTempTicks,range:g070ZoomTempRange,levels:g070ZoomTemp,cols:31,blur:2.5,coverage:g070CoverageRuns,coverageCols:62,
  ra:g070ZoomRa,raLabels:g070ZoomRaLabels,raCal:[303.5,253.3,303.4,606],dec:g070ZoomDec,decLabels:g070ZoomDecLabels,decCal:[31.3,2865,31.28,2947],decRight:194,decBase:57,raBase:3096.7,box:[550,2784,593.3,2840],letter:'c',letterX:571.7,letterY:2819},
 {name:'g070-zoom-emissivity-panel',x0:724.3,x1:1130.7,y0:2787.5,y1:3015,cb0:2757.3,cb1:2778.3,title:'beta',ticks:g070BetaTicks,range:g070BetaRange,levels:g070ZoomBeta,cols:31,blur:2.5,coverage:g070CoverageRuns,coverageCols:62,
  ra:g070ZoomRa,raLabels:g070ZoomRaLabels,raCal:[303.5,771,303.4,1123.3],dec:g070ZoomDec,decCal:[31.3,2865,31.28,2947],raBase:3096.7,box:[1066,2784,1112.7,2840],letter:'d',letterX:1089,letterY:2819}
];
panels.forEach(drawPanel);

const sourceNames = ['G037.92+02.18','G039.60+01.86','G070.07-01.60'];
const sourceNameX = [649,643,646];
const sourceNameY = [630,1302,2579];
sourceNames.forEach(function (s, i) {
  const el = label(svg, sourceNameX[i], sourceNameY[i], s);
  
  
});
[662.6, 1941].forEach(function (y) {
  const rule = make('line', svg, {x1: 9, x2: 1171, y1: y, y2: y, stroke: '#222', 'stroke-width': 2});
  
  
});
</script>
</body>
</html>
